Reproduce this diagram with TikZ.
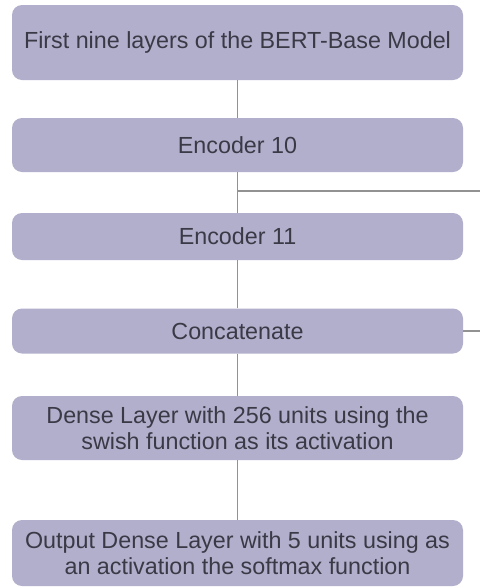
\documentclass[tikz,border=0pt]{standalone}
\usepackage{fontspec}
\setmainfont{Liberation Sans}
\definecolor{boxfill}{HTML}{B2AFCC}
\definecolor{boxtext}{HTML}{3A3946}
\definecolor{linegray}{HTML}{929292}
\begin{document}
\begin{tikzpicture}[x=1pt,y=-1pt,
  layer/.style={draw=none, fill=boxfill, rounded corners=10pt, minimum width=451pt,
    text=boxtext, font=\fontsize{23.3}{25.5}\selectfont, align=center, inner sep=0pt},
  conn/.style={draw=linegray, line width=1.8pt}]
\useasboundingbox (0,0) rectangle (480,587);
\fill[white] (0,0) rectangle (480,587);
\node[layer, minimum height=75pt] (b1) at (237.5,42.5) {First nine layers of the BERT-Base Model};
\node[layer, minimum height=54pt] (b2) at (237.5,145) {Encoder 10};
\node[layer, minimum height=47pt] (b3) at (237.5,236.5) {Encoder 11};
\node[layer, minimum height=45pt] (b4) at (237.5,331) {Concatenate};
\node[layer, minimum height=64pt] (b5) at (237.5,428) {Dense Layer with 256 units using the\\ swish function as its activation};
\node[layer, minimum height=66pt] (b6) at (237.5,553) {Output Dense Layer with 5 units using as\\ an activation the softmax function};
\coordinate (split) at (237.5,191);
\coordinate (r1) at (480,191);
\coordinate (r2) at (480,331);
\draw[conn] (b1.south) -- (b2.north);
\draw[conn] (b2.south) -- (b3.north);
\draw[conn] (split) -- (r1);
\draw[conn] (b3.south) -- (b4.north);
\draw[conn] (b4.east) -- (r2);
\draw[conn] (b4.south) -- (b5.north);
\draw[conn] (b5.south) -- (b6.north);
\end{tikzpicture}
\end{document}
